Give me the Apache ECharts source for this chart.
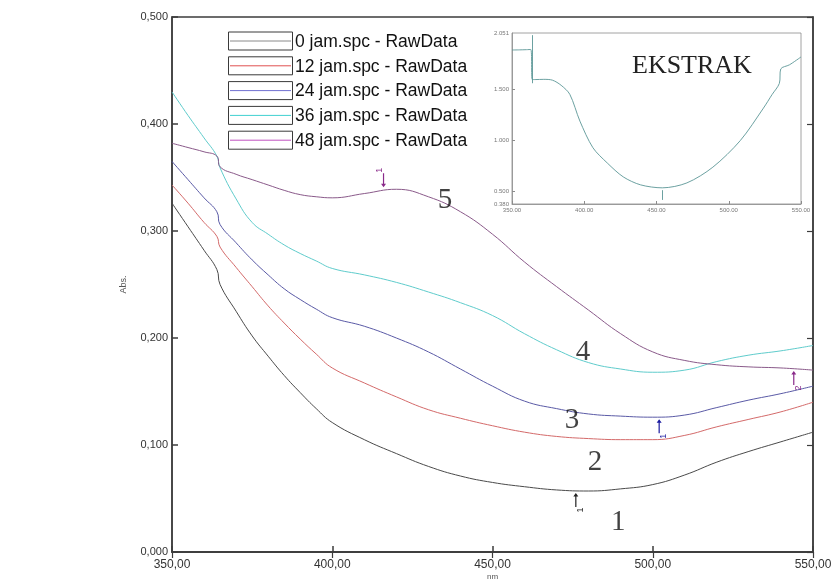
<!DOCTYPE html>
<html>
<head>
<meta charset="utf-8">
<script src="https://cdn.jsdelivr.net/npm/echarts@6/dist/echarts.min.js"></script>
<style>
  html, body { margin: 0; padding: 0; background: #fff; overflow: hidden; }
  #chart { width: 831px; height: 579px; }
</style>
</head>
<body>
<div id="chart"></div>
<script>
// Wavelength grid (nm) shared by the five spectra
const wavelength = [350, 355, 360, 364, 365, 370, 375, 380, 385, 390, 395, 400, 410, 420, 430,
                    440, 450, 460, 470, 480, 490, 500, 510, 520, 530, 540, 550];

// Absorbance of each sample
const abs0h  = [0.326, 0.304, 0.282, 0.264, 0.250, 0.225, 0.202, 0.183, 0.165, 0.149, 0.134, 0.121, 0.105, 0.092, 0.080,
                0.071, 0.065, 0.061, 0.058, 0.057, 0.059, 0.063, 0.072, 0.084, 0.094, 0.103, 0.112];
const abs12h = [0.343, 0.326, 0.308, 0.295, 0.285, 0.266, 0.248, 0.230, 0.214, 0.199, 0.185, 0.172, 0.158, 0.145, 0.133,
                0.125, 0.118, 0.112, 0.108, 0.106, 0.105, 0.105, 0.109, 0.117, 0.124, 0.131, 0.140];
const abs24h = [0.365, 0.348, 0.331, 0.318, 0.306, 0.289, 0.273, 0.259, 0.246, 0.236, 0.227, 0.219, 0.211, 0.200, 0.187,
                0.171, 0.155, 0.141, 0.134, 0.129, 0.127, 0.126, 0.128, 0.135, 0.142, 0.148, 0.155];
const abs36h = [0.430, 0.408, 0.387, 0.370, 0.359, 0.330, 0.308, 0.297, 0.287, 0.279, 0.272, 0.265, 0.259, 0.252, 0.243,
                0.233, 0.221, 0.204, 0.189, 0.177, 0.171, 0.168, 0.170, 0.178, 0.184, 0.188, 0.193];
const abs48h = [0.382, 0.378, 0.374, 0.370, 0.360, 0.353, 0.348, 0.343, 0.338, 0.334, 0.332, 0.331, 0.335, 0.339, 0.332,
                0.318, 0.297, 0.271, 0.248, 0.226, 0.204, 0.187, 0.179, 0.175, 0.173, 0.172, 0.170];

const seriesNames = ['0 jam.spc - RawData', '12 jam.spc - RawData', '24 jam.spc - RawData',
                     '36 jam.spc - RawData', '48 jam.spc - RawData'];
const seriesValues = [abs0h, abs12h, abs24h, abs36h, abs48h];

// Axis ticks
const xTicks = [350, 400, 450, 500, 550];
const yTicks = [0, 0.1, 0.2, 0.3, 0.4, 0.5];

// Peak / valley picks: [series index, nm, abs, arrow direction, pick label]
const peakSeries = [4, 0, 2, 4];
const peakNm     = [416, 476, 502, 544];
const peakAbs    = [0.339, 0.057, 0.126, 0.171];
const peakDir    = ['down', 'up', 'up', 'up'];
const peakText   = ['1', '1', '1', '2'];

// Curve numbers written on the plot: text, nm, abs
const tagText = ['5', '4', '3', '2', '1'];
const tagNm   = [435.2, 478.2, 474.8, 482.0, 489.2];
const tagAbs  = [0.329, 0.187, 0.123, 0.084, 0.028];

// Extract spectrum (inset)
const insetNm  = [350, 355, 360, 363, 364, 366, 372, 378, 384, 390, 397, 406, 416, 427, 439,
                  454, 471, 489, 508, 524, 530, 535, 536, 542, 550];
const insetAbs = [1.885, 1.886, 1.888, 1.890, 1.596, 1.596, 1.598, 1.590, 1.540, 1.452, 1.190, 0.930, 0.780, 0.645, 0.567,
                  0.538, 0.586, 0.740, 1.000, 1.317, 1.450, 1.558, 1.700, 1.740, 1.817];
const insetYLabels = [0.380, 0.5, 1.0, 1.5, 2.051];
const insetTitle = 'EKSTRAK';

const lineColors   = ['#4a4a4a', '#d46a6a', '#5a5aa6', '#5fcccc', '#8a5a8a'];
const legendColors = ['#8a8a8a', '#e05050', '#7070d0', '#40d0d0', '#c050c0'];
const markColors   = ['#222222', '#c03030', '#1a1aa0', '#20a0a0', '#8a2a8a'];

const upArrow   = 'path://M5,0L10,10L6.2,10L6.2,40L3.8,40L3.8,10L0,10Z';
const downArrow = 'path://M3.8,0L6.2,0L6.2,30L10,30L5,40L0,30L3.8,30Z';

const comma = (v, d) => v.toFixed(d).replace('.', ',');

const chart = echarts.init(document.getElementById('chart'), null, { renderer: 'canvas' });

const spectra = seriesValues.map((vals, i) => ({
  name: seriesNames[i],
  type: 'line',
  xAxisIndex: 0,
  yAxisIndex: 0,
  data: wavelength.map((w, k) => [w, vals[k]]),
  showSymbol: false,
  smooth: 0.45,
  z: 3,
  lineStyle: { color: lineColors[i], width: 1 },
  itemStyle: { color: lineColors[i] },
  markPoint: {
    silent: true,
    animation: false,
    data: peakSeries.map((s, j) => ({ s, j })).filter(o => o.s === i).map(({ j }) => ({
      coord: [peakNm[j], peakAbs[j]],
      symbol: peakDir[j] === 'down' ? downArrow : upArrow,
      symbolSize: [5, 14],
      symbolKeepAspect: false,
      symbolOffset: [0, peakDir[j] === 'down' ? -9 : 9],
      itemStyle: { color: markColors[i] },
      label: {
        show: true,
        formatter: peakText[j],
        position: peakDir[j] === 'down' ? 'top' : 'bottom',
        distance: 3,
        rotate: 90,
        fontSize: 9,
        fontFamily: 'Liberation Sans',
        color: markColors[i]
      }
    }))
  }
}));

const tagSeries = {
  type: 'scatter',
  xAxisIndex: 0,
  yAxisIndex: 0,
  silent: true,
  z: 4,
  symbolSize: 0.1,
  itemStyle: { color: 'rgba(0,0,0,0)' },
  data: tagText.map((t, i) => [tagNm[i], tagAbs[i], t]),
  label: {
    show: true,
    position: 'inside',
    formatter: p => p.data[2],
    fontFamily: 'Liberation Serif',
    fontSize: 29,
    color: '#111'
  }
};

const insetSeries = {
  type: 'line',
  xAxisIndex: 2,
  yAxisIndex: 2,
  data: insetNm.map((w, k) => [w, insetAbs[k]]),
  showSymbol: false,
  smooth: 0.3,
  z: 6,
  lineStyle: { color: '#5b9696', width: 0.9 },
  markLine: {
    silent: true,
    symbol: 'none',
    animation: false,
    label: { show: false },
    lineStyle: { color: '#5b9696', width: 0.9, type: 'solid' },
    data: [
      [{ coord: [364, 1.56] }, { coord: [364, 2.03] }],
      [{ coord: [454, 0.42] }, { coord: [454, 0.515] }]
    ]
  }
};

// Legend boxes drawn beside their series names
const legendItems = [];
seriesNames.forEach((name, i) => {
  const cy = 41 + i * 24.8;
  legendItems.push(
    { type: 'rect', shape: { x: 228.5, y: cy - 9, width: 64, height: 18 },
      style: { fill: '#fff', stroke: '#3a3a3a', lineWidth: 1 }, z: 10 },
    { type: 'line', shape: { x1: 230, y1: cy, x2: 291, y2: cy },
      style: { stroke: legendColors[i], lineWidth: 1 }, z: 11 },
    { type: 'text', x: 295, y: cy + 1,
      style: { text: name, font: '17.5px "Liberation Sans"', fill: '#111', verticalAlign: 'middle' }, z: 11 }
  );
});

const option = {
  backgroundColor: '#fff',
  animation: false,
  grid: [
    { left: 172, right: 18, top: 17, bottom: 27, show: true, borderColor: '#3c3c3c', borderWidth: 1.5,
      backgroundColor: 'transparent', outerBoundsMode: 'none', containLabel: false },
    { left: 512, top: 33, width: 289, height: 171, show: true, borderColor: '#8c8c8c', borderWidth: 0.8,
      backgroundColor: '#fff', z: 5, outerBoundsMode: 'none', containLabel: false }
  ],
  xAxis: [
    { type: 'value', gridIndex: 0, min: xTicks[0], max: xTicks[xTicks.length - 1], interval: 50,
      name: 'nm', nameLocation: 'middle', nameGap: 21, nameMoveOverlap: false,
      nameTextStyle: { fontSize: 8, color: '#555', fontFamily: 'Liberation Sans' },
      axisLine: { show: true, lineStyle: { color: '#3c3c3c', width: 1.5 } },
      axisTick: { show: true, inside: true, length: 6, lineStyle: { color: '#3c3c3c', width: 1.5 } },
      axisLabel: { formatter: v => comma(v, 2), fontSize: 12, color: '#333', margin: 7,
        fontFamily: 'Liberation Sans', showMinLabel: true, showMaxLabel: true },
      splitLine: { show: false } },
    { type: 'value', gridIndex: 0, position: 'top', min: xTicks[0], max: xTicks[xTicks.length - 1], interval: 50,
      axisLine: { show: true, lineStyle: { color: '#3c3c3c', width: 1.5 } },
      axisTick: { show: true, inside: true, length: 6, lineStyle: { color: '#3c3c3c', width: 1.2 } },
      axisLabel: { show: false }, splitLine: { show: false } },
    { type: 'value', gridIndex: 1, min: 350, max: 550, interval: 50, z: 6,
      axisLine: { show: true, lineStyle: { color: '#8c8c8c', width: 0.8 } },
      axisTick: { show: true, inside: true, length: 3, lineStyle: { color: '#8c8c8c' } },
      axisLabel: { formatter: v => v.toFixed(2), fontSize: 6, color: '#777', margin: 3,
        fontFamily: 'Liberation Sans' },
      splitLine: { show: false } }
  ],
  yAxis: [
    { type: 'value', gridIndex: 0, min: yTicks[0], max: yTicks[yTicks.length - 1], interval: 0.1,
      name: 'Abs.', nameLocation: 'middle', nameGap: 44, nameRotate: 90, nameMoveOverlap: false,
      nameTextStyle: { fontSize: 9, color: '#555', fontFamily: 'Liberation Sans' },
      axisLine: { show: true, lineStyle: { color: '#3c3c3c', width: 1.5 } },
      axisTick: { show: true, inside: true, length: 6, lineStyle: { color: '#3c3c3c', width: 1.5 } },
      axisLabel: { formatter: v => comma(v, 3), fontSize: 11, color: '#333', margin: 4,
        fontFamily: 'Liberation Sans' },
      splitLine: { show: false } },
    { type: 'value', gridIndex: 0, position: 'right', min: yTicks[0], max: yTicks[yTicks.length - 1], interval: 0.1,
      axisLine: { show: true, lineStyle: { color: '#3c3c3c', width: 1.5 } },
      axisTick: { show: true, inside: true, length: 6, lineStyle: { color: '#3c3c3c', width: 1.2 } },
      axisLabel: { show: false }, splitLine: { show: false } },
    { type: 'value', gridIndex: 1, min: insetYLabels[0], max: insetYLabels[insetYLabels.length - 1], z: 6,
      axisLine: { show: true, lineStyle: { color: '#8c8c8c', width: 0.8 } },
      axisTick: { show: true, inside: true, length: 3, lineStyle: { color: '#8c8c8c' },
        customValues: [0.5, 1.0, 1.5] },
      axisLabel: { fontSize: 6, color: '#777', margin: 3, fontFamily: 'Liberation Sans',
        customValues: insetYLabels, formatter: v => v.toFixed(3) },
      splitLine: { show: false } }
  ],
  graphic: [
    ...legendItems,
    { type: 'text', x: 632, y: 66, z: 20,
      style: { text: insetTitle, font: '26px "Liberation Serif"', fill: '#222', verticalAlign: 'middle' } }
  ],
  series: [...spectra, tagSeries, insetSeries]
};

chart.setOption(option);
</script>
</body>
</html>
